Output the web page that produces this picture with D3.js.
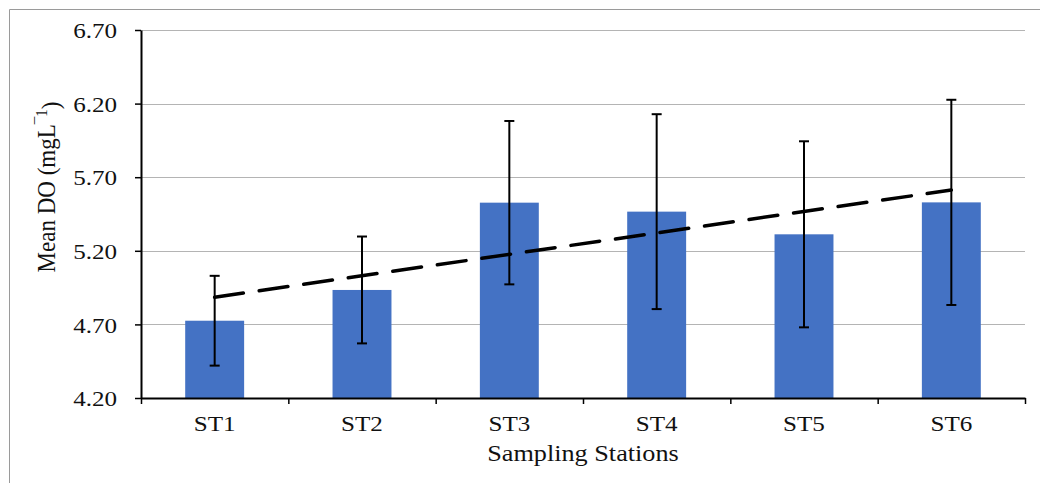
<!DOCTYPE html>
<html>
<head>
<meta charset="utf-8">
<script src="https://cdn.jsdelivr.net/npm/d3@7"></script>
<style>
  body { margin: 0; background: #fff; }
  text { font-family: "Liberation Serif", "Times New Roman", serif; fill: #111; }
</style>
</head>
<body>
<div id="chart"></div>
<script>
// data
var stations = ["ST1", "ST2", "ST3", "ST4", "ST5", "ST6"];
var meanDO = [4.725, 4.934, 5.527, 5.466, 5.312, 5.529];
var errDO = [0.305, 0.363, 0.555, 0.662, 0.632, 0.697];
var yTicks = [4.20, 4.70, 5.20, 5.70, 6.20, 6.70];

var width = 1040, height = 483;
var plotL = 141, plotR = 1025, plotT = 30, plotB = 398;
var stretch = "scale(1.14,1)";

var svg = d3.select("#chart").append("svg")
  .attr("width", width)
  .attr("height", height);

svg.append("rect").attr("width", width).attr("height", height).attr("fill", "#fff");

// outer frame (only top and left edges show)
svg.append("path")
  .attr("d", "M9.5," + height + "V9.5H" + width)
  .attr("fill", "none")
  .attr("stroke", "#9a9a9a")
  .attr("stroke-width", 1);

var y = d3.scaleLinear().domain([4.2, 6.7]).range([plotB, plotT]);
var x = d3.scaleBand().domain(stations).range([plotL, plotR]).paddingInner(0.6).paddingOuter(0.3);
var xEdge = d3.scaleLinear().domain([0, stations.length]).range([plotL, plotR]);

// gridlines
svg.append("g")
  .selectAll("line")
  .data(yTicks.slice(1))
  .enter().append("line")
    .attr("x1", plotL).attr("x2", plotR)
    .attr("y1", function(d){ return Math.round(y(d)) + 0.5; })
    .attr("y2", function(d){ return Math.round(y(d)) + 0.5; })
    .attr("stroke", "#b4b4b4")
    .attr("stroke-width", 1);

// bars
svg.append("g")
  .selectAll("rect")
  .data(meanDO)
  .enter().append("rect")
    .attr("x", function(d, i){ return x(stations[i]); })
    .attr("y", function(d){ return y(d); })
    .attr("width", x.bandwidth())
    .attr("height", function(d){ return plotB - y(d); })
    .attr("fill", "#4472c4");

// error bars
var eb = svg.append("g").attr("stroke", "#000").attr("stroke-width", 2);
meanDO.forEach(function(m, i){
  var cx = x(stations[i]) + x.bandwidth() / 2;
  var hi = y(m + errDO[i]), lo = y(m - errDO[i]);
  eb.append("line").attr("x1", cx).attr("x2", cx).attr("y1", hi).attr("y2", lo);
  eb.append("line").attr("x1", cx - 5).attr("x2", cx + 5).attr("y1", hi).attr("y2", hi);
  eb.append("line").attr("x1", cx - 5).attr("x2", cx + 5).attr("y1", lo).attr("y2", lo);
});

// linear trendline of the means
var n = meanDO.length;
var mx = (n + 1) / 2, my = d3.mean(meanDO);
var sxy = d3.sum(meanDO, function(d, i){ return (i + 1 - mx) * (d - my); });
var sxx = d3.sum(meanDO, function(d, i){ return (i + 1 - mx) * (i + 1 - mx); });
var slope = sxy / sxx, icpt = my - slope * mx;
var trend = [1, n].map(function(k){ return [x(stations[k - 1]) + x.bandwidth() / 2, y(icpt + slope * k)]; });

svg.append("path")
  .attr("d", d3.line()(trend))
  .attr("fill", "none")
  .attr("stroke", "#000")
  .attr("stroke-width", 3.5)
  .attr("stroke-linecap", "round")
  .attr("stroke-dasharray", "29,16");

// y axis
var yAxis = svg.append("g")
  .attr("transform", "translate(" + plotL + ",0)")
  .call(d3.axisLeft(y).tickValues(yTicks).tickFormat(d3.format(".2f")).tickSize(6).tickSizeOuter(0));
yAxis.select(".domain").attr("stroke", "#000").attr("stroke-width", 2);
yAxis.selectAll(".tick line").attr("stroke", "#000").attr("stroke-width", 1.5);
yAxis.selectAll(".tick text")
  .attr("x", null).attr("dy", "0.35em")
  .attr("transform", "translate(-24,0) " + stretch)
  .style("font-size", "22px")
  .style("font-family", "Liberation Serif, Times New Roman, serif")
  .attr("fill", "#111");

// x axis: ticks between categories
var xAxis = svg.append("g")
  .attr("transform", "translate(0," + plotB + ")")
  .call(d3.axisBottom(xEdge).tickValues(d3.range(n + 1)).tickFormat("").tickSize(6).tickSizeOuter(0));
xAxis.select(".domain").attr("stroke", "#000").attr("stroke-width", 2);
xAxis.selectAll(".tick line").attr("stroke", "#000").attr("stroke-width", 1.5);

var xLabels = svg.append("g")
  .attr("transform", "translate(0," + plotB + ")")
  .call(d3.axisBottom(x).tickSize(0));
xLabels.select(".domain").remove();
xLabels.selectAll(".tick text")
  .attr("y", 33).attr("dy", 0)
  .attr("transform", stretch)
  .style("font-size", "22px")
  .style("font-family", "Liberation Serif, Times New Roman, serif")
  .attr("fill", "#111");

// axis titles
svg.append("text")
  .attr("transform", "translate(" + ((plotL + plotR) / 2) + ",461) " + stretch)
  .attr("text-anchor", "middle")
  .style("font-size", "23px")
  .text("Sampling Stations");

var yt = svg.append("text")
  .attr("transform", "translate(55,187) " + stretch + " rotate(-90)")
  .attr("text-anchor", "middle")
  .style("font-size", "23px");
yt.append("tspan").text("Mean DO (mgL");
yt.append("tspan").attr("dy", "-0.45em").style("font-size", "15px").text("\u00af1");
yt.append("tspan").attr("dy", "0.45em").text(")");
</script>
</body>
</html>
